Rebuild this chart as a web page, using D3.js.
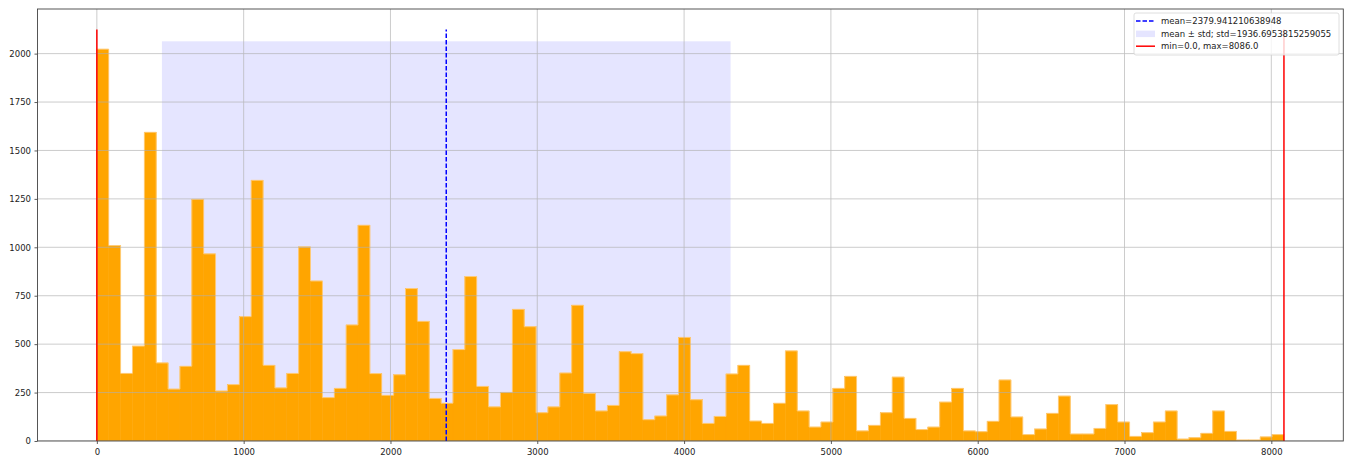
<!DOCTYPE html>
<html>
<head>
<meta charset="utf-8">
<script src="https://cdn.jsdelivr.net/npm/d3@7"></script>
<style>
  html, body { margin: 0; padding: 0; background: #fff; }
  svg text { font-family: "DejaVu Sans", sans-serif; }
</style>
</head>
<body>
<svg id="chart" width="1349" height="457"></svg>
<script>
// Histogram counts, 100 equal-width bins between the min and max values
const counts = [
  2023, 1009, 349, 490, 1594, 403, 268, 386, 1248, 966,
  258, 291, 642, 1346, 391, 274, 349, 1002, 826, 224,
  272, 599, 1114, 348, 236, 342, 787, 618, 220, 195,
  472, 849, 282, 176, 251, 680, 590, 146, 176, 351,
  701, 246, 155, 184, 461, 451, 110, 129, 238, 535,
  213, 91, 127, 346, 391, 103, 91, 195, 465, 155,
  72, 98, 272, 334, 52, 81, 146, 330, 117, 59,
  72, 201, 272, 52, 48, 102, 315, 124, 33, 62,
  143, 232, 36, 36, 65, 188, 98, 24, 43, 98,
  155, 10, 17, 40, 155, 50, 5, 5, 21, 33
];

// Summary statistics of the underlying sample
const meanValue = 2379.941210638948;
const stdValue = 1936.6953815259055;
const minValue = 0.0;
const maxValue = 8086.0;

const xTicks = [0, 1000, 2000, 3000, 4000, 5000, 6000, 7000, 8000];
const yTicks = [0, 250, 500, 750, 1000, 1250, 1500, 1750, 2000];

const legendLabels = [
  `mean=${meanValue}`,
  `mean \u00b1 std; std=${stdValue}`,
  `min=${minValue.toFixed(1)}, max=${maxValue.toFixed(1)}`
];

const nBins = counts.length;
const binWidth = (maxValue - minValue) / nBins;
const edges = d3.range(nBins + 1).map(i => minValue + i * binWidth);

const maxCount = d3.max(counts);
const lineTop = maxCount * 1.05;   // vertical reference lines
const bandTop = maxCount * 1.02;   // mean ± std band

const plot = { left: 37.5, right: 1343.3, top: 9, bottom: 441 };
const xPad = (maxValue - minValue) * 0.05;
const x = d3.scaleLinear()
  .domain([minValue - xPad, maxValue + xPad])
  .range([plot.left, plot.right]);
const y = d3.scaleLinear()
  .domain([0, lineTop * 1.05])
  .range([plot.bottom, plot.top]);

const svg = d3.select("#chart");

// Clip for everything inside the axes
svg.append("clipPath").attr("id", "plotClip")
  .append("rect")
  .attr("x", plot.left).attr("y", plot.top)
  .attr("width", plot.right - plot.left).attr("height", plot.bottom - plot.top);

const inner = svg.append("g").attr("clip-path", "url(#plotClip)");

// mean ± std band
inner.append("rect")
  .attr("x", x(meanValue - stdValue))
  .attr("y", y(bandTop))
  .attr("width", x(meanValue + stdValue) - x(meanValue - stdValue))
  .attr("height", y(0) - y(bandTop))
  .attr("fill", "#e5e5ff");

// Histogram bars
inner.append("g").selectAll("rect")
  .data(counts)
  .join("rect")
  .attr("x", (d, i) => x(edges[i]))
  .attr("width", (d, i) => x(edges[i + 1]) - x(edges[i]))
  .attr("y", d => y(d))
  .attr("height", d => y(0) - y(d))
  .attr("fill", "#ffa500")
  .attr("stroke", "#ffa500")
  .attr("stroke-width", 0.5);

// Soft outline along the bar tops
const stepPts = counts.map((c, i) => [edges[i], c]).concat([[edges[nBins], counts[nBins - 1]]]);
inner.append("path")
  .attr("d", d3.line().x(d => x(d[0])).y(d => y(d[1])).curve(d3.curveStepAfter)(stepPts))
  .attr("fill", "none")
  .attr("stroke", "#ffd08a")
  .attr("stroke-width", 0.8);

// Grid
const grid = inner.append("g").attr("stroke", "#b0b0b0").attr("stroke-width", 0.8).attr("opacity", 0.8);
grid.selectAll("line.gx").data(xTicks).join("line")
  .attr("x1", d => x(d)).attr("x2", d => x(d))
  .attr("y1", plot.top).attr("y2", plot.bottom);
grid.selectAll("line.gy").data(yTicks).join("line")
  .attr("x1", plot.left).attr("x2", plot.right)
  .attr("y1", d => y(d)).attr("y2", d => y(d));

// Mean line
inner.append("line")
  .attr("x1", x(meanValue)).attr("x2", x(meanValue))
  .attr("y1", y(0)).attr("y2", y(lineTop))
  .attr("stroke", "#0000ff").attr("stroke-width", 1.5)
  .attr("stroke-dasharray", "4.5,2");

// Min / max lines
inner.selectAll("line.mm").data([minValue, maxValue]).join("line")
  .attr("x1", d => x(d)).attr("x2", d => x(d))
  .attr("y1", y(0)).attr("y2", y(lineTop))
  .attr("stroke", "#ff0000").attr("stroke-width", 1.5);

// Axes
const xAxis = svg.append("g")
  .attr("transform", `translate(0,${plot.bottom})`)
  .call(d3.axisBottom(x).tickValues(xTicks).tickSize(3).tickPadding(5).tickFormat(d3.format("d")));
const yAxis = svg.append("g")
  .attr("transform", `translate(${plot.left},0)`)
  .call(d3.axisLeft(y).tickValues(yTicks).tickSize(3).tickPadding(3.5).tickFormat(d3.format("d")));
[xAxis, yAxis].forEach(a => {
  a.select(".domain").remove();
  a.selectAll(".tick line").attr("stroke", "#333").attr("stroke-width", 0.8);
  a.selectAll(".tick text").attr("fill", "#222").style("font-size", "8.5px")
    .style("font-family", "'DejaVu Sans', sans-serif");
});

// Frame
svg.append("rect")
  .attr("x", plot.left).attr("y", plot.top)
  .attr("width", plot.right - plot.left).attr("height", plot.bottom - plot.top)
  .attr("fill", "none").attr("stroke", "#444").attr("stroke-width", 0.9);

// Legend
const lg = svg.append("g");
lg.append("rect")
  .attr("x", 1134).attr("y", 13).attr("width", 205).attr("height", 42)
  .attr("rx", 2)
  .attr("fill", "#fff").attr("fill-opacity", 0.8)
  .attr("stroke", "#d6d6d6").attr("stroke-width", 0.8);
const rowY = [21, 33.6, 46.2];
lg.append("line")
  .attr("x1", 1136).attr("x2", 1155).attr("y1", rowY[0]).attr("y2", rowY[0])
  .attr("stroke", "#0000ff").attr("stroke-width", 1.5).attr("stroke-dasharray", "4.5,2");
lg.append("rect")
  .attr("x", 1136).attr("y", rowY[1] - 3).attr("width", 19).attr("height", 6.5)
  .attr("fill", "#e5e5ff");
lg.append("line")
  .attr("x1", 1136).attr("x2", 1155).attr("y1", rowY[2]).attr("y2", rowY[2])
  .attr("stroke", "#ff0000").attr("stroke-width", 1.5);
lg.selectAll("text").data(legendLabels).join("text")
  .attr("x", 1161)
  .attr("y", (d, i) => rowY[i] + 3)
  .attr("fill", "#222")
  .style("font-size", "8.5px")
  .text(d => d);
</script>
</body>
</html>
